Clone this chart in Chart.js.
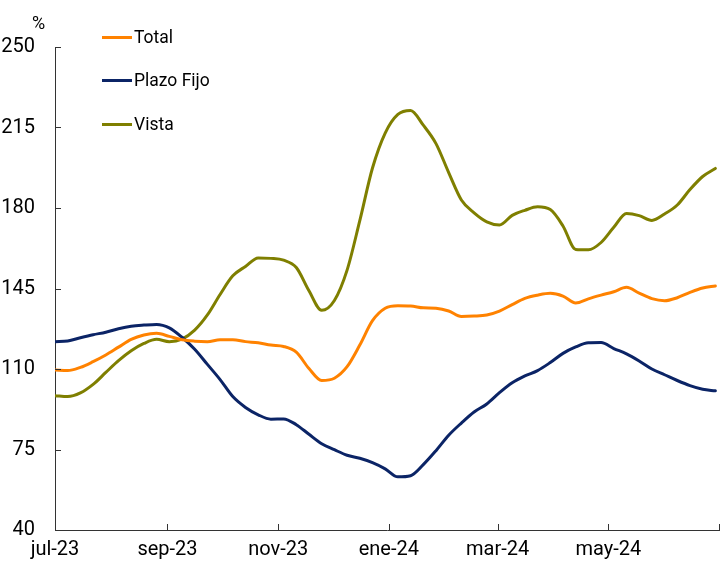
<!DOCTYPE html>
<html>
<head>
<meta charset="utf-8">
<script src="https://cdn.jsdelivr.net/npm/chart.js@4"></script>
<style>
  html, body { margin: 0; padding: 0; background: #fff; }
  #wrap { position: relative; width: 721px; height: 562px; }
  canvas { position: absolute; left: 0; top: 0; }
  .lg { position: absolute; font-family: Roboto, sans-serif; font-size: 17.5px; color: #000; white-space: nowrap; line-height: 20px; }
  .lg span { display: inline-block; width: 30px; height: 3px; vertical-align: middle; margin-right: 2px; position: relative; top: -1px; }
  #pct { position: absolute; left: 32px; top: 12px; font-family: Roboto, sans-serif; font-size: 18px; color: #000; }
</style>
</head>
<body>
<div id="wrap">
  <canvas id="c" width="721" height="562"></canvas>
  <div id="pct">%</div>
  <div class="lg" id="lg0" style="left:102px; top:27px;"><span style="background:#ff8200"></span>Total</div>
  <div class="lg" id="lg1" style="left:102px; top:70px;"><span style="background:#0b2466"></span>Plazo Fijo</div>
  <div class="lg" id="lg2" style="left:102px; top:114px;"><span style="background:#7f7f00"></span>Vista</div>
</div>
<script>
// ---- data (weekly readings) ----
const dates = [
  "2023-07-01","2023-07-08","2023-07-15","2023-07-22","2023-07-29",
  "2023-08-05","2023-08-12","2023-08-19","2023-08-26",
  "2023-09-02","2023-09-09","2023-09-16","2023-09-23","2023-09-30",
  "2023-10-07","2023-10-14","2023-10-21","2023-10-28",
  "2023-11-04","2023-11-11","2023-11-18","2023-11-25",
  "2023-12-02","2023-12-09","2023-12-16","2023-12-23","2023-12-30",
  "2024-01-06","2024-01-13","2024-01-20","2024-01-27",
  "2024-02-03","2024-02-10","2024-02-17","2024-02-24",
  "2024-03-02","2024-03-09","2024-03-16","2024-03-23","2024-03-30",
  "2024-04-06","2024-04-13","2024-04-20","2024-04-27",
  "2024-05-04","2024-05-11","2024-05-18","2024-05-25",
  "2024-06-01","2024-06-08","2024-06-15","2024-06-22","2024-06-29"
];
const seriesNames = ["Total", "Plazo Fijo", "Vista"];
const total = [
  109.6,109.3,110.7,113.2,116.1,119.5,122.9,124.8,125.5,124.2,
  122.7,122.1,121.9,122.7,122.7,121.9,121.4,120.4,119.8,117.3,
  110.2,105.0,106.0,111.0,120.4,131.0,136.4,137.5,137.4,136.6,
  136.4,135.2,132.8,133.0,133.5,135.2,138.0,140.7,142.1,142.9,
  141.7,138.7,140.5,142.1,143.6,145.5,143.0,140.6,139.7,141.0,
  143.3,145.2,146.1
];
const plazoFijo = [
  121.9,122.2,123.6,124.9,126.0,127.5,128.6,129.1,129.4,127.9,
  123.8,118.6,112.0,105.4,98.0,93.3,90.1,88.2,88.3,85.8,
  81.6,77.5,74.9,72.5,71.2,69.3,66.6,63.1,63.6,68.4,
  74.5,81.2,86.5,91.3,94.8,99.7,104.0,107.0,109.3,112.8,
  116.8,119.6,121.4,121.5,118.9,116.6,113.5,110.0,107.5,105.0,
  102.8,101.2,100.5
];
const vista = [
  98.4,98.0,99.6,103.3,108.5,113.6,117.9,121.1,122.9,121.9,
  123.0,126.9,133.5,142.4,150.5,154.6,158.3,158.1,157.3,154.1,
  144.0,135.5,139.8,153.0,174.5,197.4,212.6,220.7,222.4,216.0,
  208.0,195.4,183.5,177.9,174.0,172.6,176.8,179.0,180.5,179.3,
  172.2,162.0,161.8,165.0,171.6,177.6,176.7,174.6,177.4,181.3,
  188.0,193.7,197.2
];
const tickDates = ["2023-07-01","2023-09-01","2023-11-01","2024-01-01","2024-03-01","2024-05-01","2024-07-01"];
const tickLabels = ["jul-23","sep-23","nov-23","ene-24","mar-24","may-24",""];
const yTicks = [40, 75, 110, 145, 180, 215, 250];

// ---- helpers ----
const DAY = 86400000;
const t0 = Date.parse(tickDates[0] + "T00:00:00Z");
const dayOf = s => Math.round((Date.parse(s + "T00:00:00Z") - t0) / DAY);
const xDays = dates.map(dayOf);
const tickDays = tickDates.map(dayOf);
const pts = arr => arr.map((v, i) => ({ x: xDays[i], y: v }));

const colors = ["#ff8200", "#0b2466", "#7f7f00"];
const FONT = "Roboto, sans-serif";

const innerTicks = {
  id: "innerTicks",
  afterDatasetsDraw(chart) {
    const { ctx, chartArea, scales } = chart;
    ctx.save();
    ctx.strokeStyle = "#333";
    ctx.lineWidth = 1;
    ctx.beginPath();
    yTicks.forEach(v => {
      const y = Math.round(scales.y.getPixelForValue(v)) + 0.5;
      ctx.moveTo(chartArea.left, y);
      ctx.lineTo(chartArea.left + 6, y);
    });
    tickDays.forEach(d => {
      const x = Math.round(scales.x.getPixelForValue(d)) + 0.5;
      ctx.moveTo(x, chartArea.bottom);
      ctx.lineTo(x, chartArea.bottom - 6);
    });
    ctx.stroke();
    ctx.restore();
  }
};

new Chart(document.getElementById("c"), {
  type: "line",
  data: {
    datasets: [
      { label: seriesNames[0], data: pts(total), borderColor: colors[0] },
      { label: seriesNames[1], data: pts(plazoFijo), borderColor: colors[1] },
      { label: seriesNames[2], data: pts(vista), borderColor: colors[2] }
    ].map(d => Object.assign(d, {
      borderWidth: 3, pointRadius: 0, fill: false,
      cubicInterpolationMode: "monotone", borderCapStyle: "round", borderJoinStyle: "round"
    }))
  },
  options: {
    responsive: false,
    animation: false,
    devicePixelRatio: 1,
    layout: { padding: { top: 47, right: 2, left: 0, bottom: 0 } },
    plugins: { legend: { display: false }, tooltip: { enabled: false } },
    scales: {
      x: {
        type: "linear",
        min: tickDays[0],
        max: tickDays[tickDays.length - 1],
        afterBuildTicks: s => { s.ticks = tickDays.map(v => ({ value: v })); },
        afterFit: s => { s.height = 32; s.paddingRight = 0; s.paddingLeft = 0; },
        grid: { display: false, drawTicks: false },
        border: { display: true, color: "#333", width: 1 },
        ticks: {
          autoSkip: false, maxRotation: 0, padding: 8,
          color: "#000", font: { family: FONT, size: 20 },
          callback: (v, i) => tickLabels[i]
        }
      },
      y: {
        min: yTicks[0],
        max: yTicks[yTicks.length - 1],
        afterBuildTicks: s => { s.ticks = yTicks.map(v => ({ value: v })); },
        afterFit: s => { s.width = 55; },
        grid: { display: false, drawTicks: false },
        border: { display: true, color: "#333", width: 1 },
        ticks: {
          padding: 20, color: "#000", font: { family: FONT, size: 20 },
          callback: v => String(v)
        }
      }
    }
  },
  plugins: [innerTicks]
});
</script>
</body>
</html>
